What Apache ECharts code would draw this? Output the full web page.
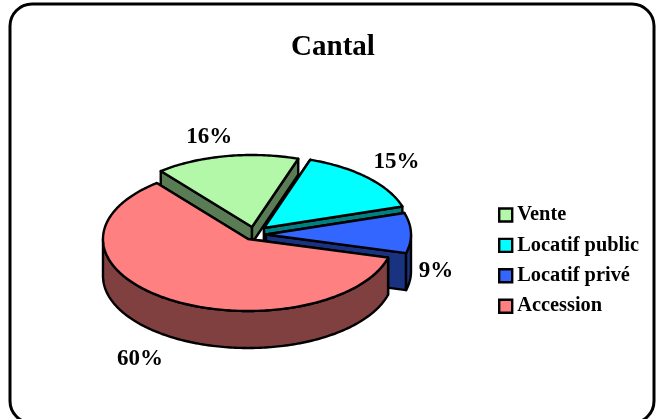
<!DOCTYPE html>
<html>
<head>
<meta charset="utf-8">
<script src="https://cdn.jsdelivr.net/npm/echarts@6/dist/echarts.min.js"></script>
<style>
html,body{margin:0;padding:0;background:#fff;overflow:hidden}
#main{width:659px;height:419px}
</style>
</head>
<body>
<div id="main"></div>
<script>
var categories = ['Vente', 'Locatif public', 'Locatif privé', 'Accession'];
var shares = [16, 15, 9, 60];

// look of the 3d pie, nothing here is a value
var topColors = ['#B3F8A8', '#00FFFF', '#3366FF', '#FF8080'];
var wallColors = ['#5A7C54', '#008080', '#1A3380', '#804040'];
var apex = [[252, 227], [264, 228], [266, 234.5], [248, 239]]; // exploded centres
var endDepth = [16, 37, 37, 37]; // vente's wall is cut short by the gap
var labelNudge = [[-17, -19], [29, -16], [25, 38], [-29, 60]];
var rx = 145, ry = 72, depth = 37, firstAngle = -39;

function total() {
    return shares.reduce(function (a, b) { return a + b; }, 0);
}
function rim(c, deg, down) {
    var a = deg * Math.PI / 180;
    return [c[0] + rx * Math.sin(a), c[1] - ry * Math.cos(a) + (down || 0)];
}
function arc(c, from, to, down) {
    var pts = [];
    var n = Math.max(2, Math.ceil(Math.abs(to - from)));
    for (var i = 0; i <= n; i++) {
        pts.push(rim(c, from + (to - from) * i / n, down));
    }
    return pts;
}
function poly(points, fill) {
    return {
        type: 'polygon',
        shape: {points: points},
        style: {fill: fill, stroke: '#000', lineWidth: 2.4, lineJoin: 'round'}
    };
}
function sideWall(c, deg, d, fill) {
    var p = rim(c, deg);
    return poly([c, p, [p[0], p[1] + d], [c[0], c[1] + d]], fill);
}

function renderSlice(params, api) {
    var i = params.seriesIndex;
    var value = api.value(0);
    var before = 0;
    for (var k = 0; k < i; k++) before += shares[k];
    var from = firstAngle + before / total() * 360;
    var to = from + value / total() * 360;
    var c = apex[i];
    var kids = [];
    kids.push(sideWall(c, from, depth, wallColors[i]));
    kids.push(sideWall(c, to, endDepth[i], wallColors[i]));
    // outer wall only where the rim faces the viewer
    var a = Math.max(from, 90), b = Math.min(to, 270);
    if (b > a) {
        kids.push(poly(arc(c, a, b, 0).concat(arc(c, b, a, depth)), wallColors[i]));
    }
    kids.push(poly([c].concat(arc(c, from, to, 0)), topColors[i]));
    var mid = rim(c, (from + to) / 2);
    kids.push({
        type: 'text',
        style: {
            x: mid[0] + labelNudge[i][0],
            y: mid[1] + labelNudge[i][1],
            text: value + '%',
            fill: '#000',
            font: 'bold 23px "Liberation Serif"',
            align: 'center',
            verticalAlign: 'middle'
        }
    });
    return {type: 'group', children: kids};
}

var chart = echarts.init(document.getElementById('main'), null, {renderer: 'canvas'});
var series = categories.map(function (name, i) {
    return {
        name: name,
        type: 'custom',
        coordinateSystem: 'none',
        z: 2 + i,
        animation: false,
        itemStyle: {color: topColors[i]},
        renderItem: renderSlice,
        data: [[shares[i]]]
    };
});
var option = {
    backgroundColor: '#fff',
    animation: false,
    title: {
        text: 'Cantal',
        left: 328,
        top: 28,
        textAlign: 'center',
        textStyle: {fontFamily: 'Liberation Serif', fontWeight: 'bold', fontSize: 29, color: '#000'}
    },
    legend: {
        orient: 'vertical',
        left: 493,
        top: 200,
        icon: 'rect',
        itemWidth: 13,
        itemHeight: 13,
        itemGap: 10.4,
        selectedMode: false,
        textStyle: {fontFamily: 'Liberation Serif', fontWeight: 'bold', fontSize: 20.4, color: '#000', padding: [0, 0, 0, 0]},
        itemStyle: {borderColor: '#000', borderWidth: 2.4},
        data: categories
    },
    graphic: [{
        type: 'rect',
        silent: true,
        z: 1,
        shape: {x: 10, y: 4, width: 644, height: 419, r: 22},
        style: {fill: '#fff', stroke: '#000', lineWidth: 3}
    }],
    series: series
};
chart.setOption(option);
</script>
</body>
</html>
